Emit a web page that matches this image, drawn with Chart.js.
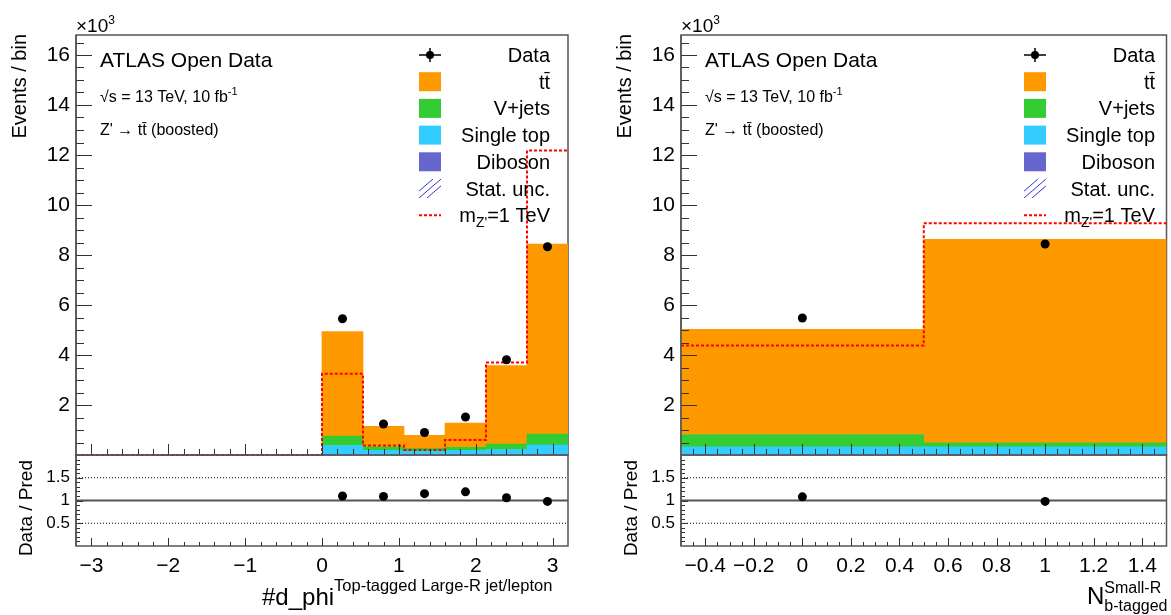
<!DOCTYPE html>
<html>
<head>
<meta charset="utf-8">
<title>Z' to ttbar boosted selection</title>
<script src="https://cdn.jsdelivr.net/npm/chart.js@4.4.1/dist/chart.umd.min.js"></script>
<style>
  html, body { margin: 0; padding: 0; background: #fff; }
  #page { position: relative; width: 1171px; height: 615px; overflow: hidden; }
  canvas { position: absolute; }
</style>
</head>
<body>
<div id="page">
  <canvas id="phi-main" width="585" height="460" style="left:0;top:0"></canvas>
  <canvas id="phi-ratio" width="585" height="165" style="left:0;top:450px"></canvas>
  <canvas id="nb-main" width="586" height="460" style="left:585px;top:0"></canvas>
  <canvas id="nb-ratio" width="586" height="165" style="left:585px;top:450px"></canvas>
</div>
<script>
// delta phi between top-tagged large-R jet and lepton, 12 bins on [-3.2, 3.2]
const phiEdges = [-3.2, -2.6667, -2.1333, -1.6, -1.0667, -0.5333, 0, 0.5333, 1.0667, 1.6, 2.1333, 2.6667, 3.2]
const phiData      = [0, 0, 0, 0, 0, 0, 5450, 1240, 900, 1520, 3810, 8330]
const phiTtbar     = [0, 0, 0, 0, 0, 0, 4180, 820, 520, 970, 3140, 7600]
const phiVjets     = [0, 0, 0, 0, 0, 0, 380, 140, 110, 120, 220, 440]
const phiSingleTop = [0, 0, 0, 0, 0, 0, 360, 180, 150, 180, 210, 380]
const phiDiboson   = [0, 0, 0, 0, 0, 0, 20, 10, 10, 10, 10, 20]
const phiZprime    = [0, 0, 0, 0, 0, 0, 3250, 380, 200, 600, 3700, 12180]
const phiRatio     = [null, null, null, null, null, null, 1.10, 1.09, 1.15, 1.19, 1.06, 0.98]
const phiTicks     = [-3, -2, -1, 0, 1, 2, 3]

// number of b-tagged small-R jets, 2 bins
const nbEdges      = [-0.5, 0.5, 1.5]
const nbData       = [5480, 8440]
const nbTtbar      = [4210, 8140]
const nbVjets      = [490, 160]
const nbSingleTop  = [310, 310]
const nbDiboson    = [20, 20]
const nbZprime     = [4380, 9270]
const nbRatio      = [1.08, 0.98]
const nbTicks      = [-0.4, -0.2, 0, 0.2, 0.4, 0.6, 0.8, 1, 1.2, 1.4]

const countTicks = [2000, 4000, 6000, 8000, 10000, 12000, 14000, 16000]
const ratioTicks = [0.5, 1, 1.5]

const FONT = '"Liberation Sans", Arial, Helvetica, sans-serif'
Chart.defaults.font.family = FONT
Chart.defaults.color = '#000'
Chart.defaults.animation = false

const colors = {
  ttbar: '#ff9900',
  vjets: '#33cc33',
  singleTop: '#33ccff',
  diboson: '#6666cc',
  zprime: '#ff0000',
  unc: '#3333cc',
  axis: '#555'
}

function centers(edges) {
  return edges.slice(1).map((e, i) => (edges[i] + e) / 2)
}

function range(from, to, step) {
  const out = []
  for (let v = from; v <= to + 1e-9; v += step) out.push(+v.toFixed(4))
  return out
}

function fmtTick(v) {
  return (v < 0 ? '\u2212' : '') + Math.abs(v)
}

// fixed axis box, no extra room reserved for half labels at the ends
function fixBox(size) {
  return s => {
    if (s.isHorizontal()) s.height = size
    else s.width = size
    s.paddingTop = s.paddingBottom = s.paddingLeft = s.paddingRight = 0
  }
}

// text with super/subscripts, parts drawn one after another
function drawParts(ctx, parts, x, y, align, rotate) {
  ctx.save()
  ctx.translate(x, y)
  if (rotate) ctx.rotate(-Math.PI / 2)
  ctx.fillStyle = '#000'
  ctx.textBaseline = 'alphabetic'
  ctx.textAlign = 'left'
  const widths = parts.map(p => {
    ctx.font = `${p.size}px ${FONT}`
    return ctx.measureText(p.text).width
  })
  const total = parts.reduce((s, p, i) => s + (p.keep ? 0 : widths[i]), 0)
  let cx = align === 'right' ? -total : 0
  parts.forEach((p, i) => {
    ctx.font = `${p.size}px ${FONT}`
    ctx.fillText(p.text, cx, p.dy || 0)
    if (!p.keep) cx += widths[i]
  })
  ctx.restore()
}

// ROOT-like frame with ticks pointing inside, plus reference lines for the ratio pad
const rootFrame = {
  id: 'rootFrame',
  beforeDatasetsDraw(chart, args, opts) {
    const { ctx, chartArea: a, scales: { y } } = chart
    ctx.save()
    ctx.strokeStyle = colors.axis
    ctx.lineWidth = 1.5
    ctx.strokeRect(a.left, a.top, a.width, a.height)
    for (const r of opts.refLines || []) {
      const py = y.getPixelForValue(r.value)
      ctx.strokeStyle = r.color
      ctx.lineWidth = r.width
      ctx.setLineDash(r.dash || [])
      ctx.beginPath()
      ctx.moveTo(a.left, py)
      ctx.lineTo(a.right, py)
      ctx.stroke()
    }
    ctx.restore()
  },
  afterDatasetsDraw(chart, args, opts) {
    const { ctx, chartArea: a, scales: { x, y } } = chart
    ctx.save()
    ctx.strokeStyle = '#333'
    ctx.lineWidth = 1
    ctx.beginPath()
    for (const [vals, len] of [[opts.xMinor, opts.xLen[1]], [opts.xMajor, opts.xLen[0]]]) {
      for (const v of vals) {
        const px = Math.round(x.getPixelForValue(v)) + 0.5
        if (px <= a.left + 1 || px >= a.right - 1) continue
        ctx.moveTo(px, a.bottom)
        ctx.lineTo(px, a.bottom - len)
      }
    }
    for (const [vals, len] of [[opts.yMinor, opts.yLen[1]], [opts.yMajor, opts.yLen[0]]]) {
      for (const v of vals) {
        const py = Math.round(y.getPixelForValue(v)) + 0.5
        if (py <= a.top + 1 || py >= a.bottom - 1) continue
        ctx.moveTo(a.left, py)
        ctx.lineTo(a.left + len, py)
      }
    }
    ctx.stroke()
    // left axis line stays on top of the fills
    ctx.strokeStyle = colors.axis
    ctx.lineWidth = 1.5
    ctx.beginPath()
    ctx.moveTo(a.left, a.top)
    ctx.lineTo(a.left, a.bottom)
    ctx.stroke()
    ctx.restore()
  }
}

const annotations = {
  id: 'annotations',
  afterDraw(chart, args, opts) {
    const { ctx, chartArea: a } = chart
    for (const t of opts.items || []) {
      drawParts(ctx, t.parts, a.left + t.dx, a.top + t.dy, t.align, t.rotate)
    }
  }
}

const histLegend = {
  id: 'histLegend',
  afterDraw(chart, args, opts) {
    const { ctx, chartArea: a } = chart
    ;(opts.entries || []).forEach((e, i) => {
      const cx = a.left + opts.markerX
      const cy = a.top + opts.top + i * opts.rowStep
      ctx.save()
      if (e.kind === 'marker') {
        ctx.strokeStyle = '#000'
        ctx.lineWidth = 1.5
        ctx.beginPath()
        ctx.moveTo(cx - 11, cy); ctx.lineTo(cx + 11, cy)
        ctx.moveTo(cx, cy - 7); ctx.lineTo(cx, cy + 7)
        ctx.stroke()
        ctx.fillStyle = '#000'
        ctx.beginPath(); ctx.arc(cx, cy, 4, 0, Math.PI * 2); ctx.fill()
      } else if (e.kind === 'box') {
        ctx.fillStyle = e.color
        ctx.fillRect(cx - 11, cy - 9.5, 22, 19)
      } else if (e.kind === 'hatch') {
        ctx.strokeStyle = e.color
        ctx.lineWidth = 1
        ctx.beginPath()
        ctx.rect(cx - 11, cy - 9.5, 22, 19)
        ctx.clip()
        ctx.beginPath()
        for (const off of [-8, 0, 8]) {
          ctx.moveTo(cx - 11 + off, cy + 9.5)
          ctx.lineTo(cx + 11 + off, cy - 9.5)
        }
        ctx.stroke()
      } else if (e.kind === 'dash') {
        ctx.strokeStyle = e.color
        ctx.lineWidth = 2
        ctx.setLineDash([3, 2])
        ctx.beginPath()
        ctx.moveTo(cx - 11, cy); ctx.lineTo(cx + 11, cy)
        ctx.stroke()
      }
      ctx.restore()
      drawParts(ctx, e.parts, a.left + opts.labelRight, cy + 7, 'right')
    })
  }
}

const legendEntries = [
  { kind: 'marker', parts: [{ text: 'Data', size: 20 }] },
  { kind: 'box', color: colors.ttbar, parts: [{ text: 'tt\u0304', size: 20 }] },
  { kind: 'box', color: colors.vjets, parts: [{ text: 'V+jets', size: 20 }] },
  { kind: 'box', color: colors.singleTop, parts: [{ text: 'Single top', size: 20 }] },
  { kind: 'box', color: colors.diboson, parts: [{ text: 'Diboson', size: 20 }] },
  { kind: 'hatch', color: colors.unc, parts: [{ text: 'Stat. unc.', size: 20 }] },
  { kind: 'dash', color: colors.zprime, parts: [{ text: 'm', size: 20 }, { text: "Z'", size: 14, dy: 5 }, { text: '=1 TeV', size: 20 }] }
]

const mainTexts = [
  { dx: 0, dy: -3, parts: [{ text: '\u00d710', size: 19 }, { text: '3', size: 12, dy: -8 }] },
  { dx: 24, dy: 32, parts: [{ text: 'ATLAS Open Data', size: 21 }] },
  { dx: 24, dy: 67, parts: [{ text: '\u221as = 13 TeV, 10 fb', size: 16 }, { text: '-1', size: 11, dy: -7 }] },
  { dx: 24, dy: 100, parts: [{ text: "Z' \u2192 tt\u0304 (boosted)", size: 16 }] },
  { dx: -50, dy: -1, rotate: true, align: 'right', parts: [{ text: 'Events / bin', size: 20 }] }
]

function points(xs, values) {
  return xs.map((x, i) => ({ x, y: values[i] })).filter(p => p.y)
}

function stack(label, values, xs, color) {
  return {
    type: 'bar', label, stack: 'mc',
    data: xs.map((x, i) => ({ x, y: values[i] })),
    backgroundColor: color, borderWidth: 0,
    barPercentage: 1, categoryPercentage: 1
  }
}

function buildPanel(p) {
  const xs = centers(p.edges)
  const xMin = p.edges[0], xMax = p.edges[p.edges.length - 1]
  const xMinor = range(xMin, xMax, p.minorStep)

  new Chart(document.getElementById(p.id + '-main'), {
    type: 'bar',
    data: {
      datasets: [
        {
          type: 'scatter', label: 'Data', stack: 'data',
          data: points(xs, p.data),
          pointRadius: 4.5, backgroundColor: '#000', borderColor: '#000', borderWidth: 0
        },
        {
          type: 'line', label: "m_Z'=1 TeV", stack: 'zprime',
          // one point per bin edge, last bin repeated to close the step
          data: p.edges.map((e, i) => ({ x: e, y: p.zprime[Math.min(i, p.zprime.length - 1)] })),
          stepped: true, fill: false, clip: 3,
          borderColor: colors.zprime, borderWidth: 2, borderDash: [3, 2], pointRadius: 0
        },
        stack('Diboson', p.diboson, xs, colors.diboson),
        stack('Single top', p.singleTop, xs, colors.singleTop),
        stack('V+jets', p.vjets, xs, colors.vjets),
        stack('tt\u0304', p.ttbar, xs, colors.ttbar)
      ]
    },
    options: {
      responsive: false,
      layout: { padding: { left: 0, right: p.padRight, top: 35, bottom: 5 } },
      plugins: {
        legend: { display: false },
        tooltip: { enabled: false },
        rootFrame: {
          xMajor: p.ticks, xMinor, xLen: [11, 6],
          yMajor: countTicks, yMinor: range(0, 16800, 500), yLen: [16, 8]
        },
        annotations: { items: mainTexts },
        histLegend: { entries: legendEntries, markerX: 354, labelRight: 474, top: 20, rowStep: 26.7 }
      },
      scales: {
        x: {
          type: 'linear', min: xMin, max: xMax, stacked: true, offset: false, display: false,
          ticks: { display: false },
          afterBuildTicks: s => { s.ticks = p.edges.map(v => ({ value: v })) }
        },
        y: {
          type: 'linear', min: 0, max: 16800, stacked: true,
          grid: { display: false, drawTicks: false },
          border: { display: false },
          ticks: { padding: 6, font: { size: 21 }, callback: v => v / 1000 },
          afterBuildTicks: s => { s.ticks = countTicks.map(v => ({ value: v })) },
          afterFit: fixBox(p.axisWidth)
        }
      }
    },
    plugins: [rootFrame, annotations, histLegend]
  })

  new Chart(document.getElementById(p.id + '-ratio'), {
    type: 'scatter',
    data: {
      datasets: [{
        label: 'Data / Pred',
        data: points(xs, p.ratio),
        pointRadius: 4.5, backgroundColor: '#000', borderColor: '#000', borderWidth: 0
      }]
    },
    options: {
      responsive: false,
      layout: { padding: { left: 0, right: p.padRight, top: 5, bottom: 0 } },
      plugins: {
        legend: { display: false },
        tooltip: { enabled: false },
        rootFrame: {
          xMajor: p.ticks, xMinor, xLen: [8, 4],
          yMajor: ratioTicks, yMinor: range(0, 2, 0.1), yLen: [7, 4],
          refLines: [
            { value: 0.5, color: '#000', width: 1, dash: [1, 2] },
            { value: 1.5, color: '#000', width: 1, dash: [1, 2] },
            { value: 1, color: '#555', width: 2 }
          ]
        },
        annotations: {
          items: [
            { dx: -44, dy: 5, rotate: true, align: 'right', parts: [{ text: 'Data / Pred', size: 19 }] },
            p.xTitle
          ]
        }
      },
      scales: {
        x: {
          type: 'linear', min: xMin, max: xMax,
          grid: { display: false, drawTicks: false },
          border: { display: false },
          ticks: { padding: 8, font: { size: 21 }, maxRotation: 0, autoSkip: false, callback: fmtTick },
          afterBuildTicks: s => { s.ticks = p.ticks.map(v => ({ value: v })) },
          afterFit: fixBox(69)
        },
        y: {
          type: 'linear', min: 0, max: 2,
          grid: { display: false, drawTicks: false },
          border: { display: false },
          ticks: { padding: 6, font: { size: 17 }, callback: v => String(v) },
          afterBuildTicks: s => { s.ticks = ratioTicks.map(v => ({ value: v })) },
          afterFit: fixBox(p.axisWidth)
        }
      }
    },
    plugins: [rootFrame, annotations]
  })
}

buildPanel({
  id: 'phi', edges: phiEdges, ticks: phiTicks, minorStep: 0.2,
  data: phiData, ttbar: phiTtbar, vjets: phiVjets, singleTop: phiSingleTop,
  diboson: phiDiboson, zprime: phiZprime, ratio: phiRatio,
  axisWidth: 76, padRight: 17,
  xTitle: { dx: 186, dy: 150, parts: [
    { text: '#d_phi', size: 24 },
    { text: 'Top-tagged Large-R jet/lepton', size: 16.5, dy: -14 }
  ] }
})

buildPanel({
  id: 'nb', edges: nbEdges, ticks: nbTicks, minorStep: 0.05,
  data: nbData, ttbar: nbTtbar, vjets: nbVjets, singleTop: nbSingleTop,
  diboson: nbDiboson, zprime: nbZprime, ratio: nbRatio,
  axisWidth: 96, padRight: 2,
  xTitle: { dx: 406, dy: 149, parts: [
    { text: 'N', size: 24 },
    { text: 'Small-R', size: 16, dy: -11, keep: true },
    { text: 'b-tagged', size: 16, dy: 7 }
  ] }
})
</script>
</body>
</html>
